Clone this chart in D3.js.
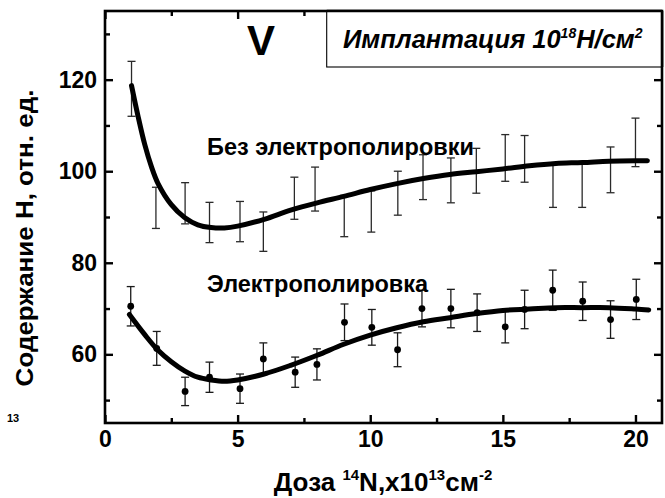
<!DOCTYPE html>
<html>
<head>
<meta charset="utf-8">
<script src="https://cdn.jsdelivr.net/npm/d3@7"></script>
<style>
  html, body { margin: 0; padding: 0; background: #fff; }
  svg { display: block; }
  text { font-family: Arial, "Liberation Sans", sans-serif; }
</style>
</head>
<body>
<svg id="chart" width="665" height="498"></svg>
<script>
// Без электрополировки: доза, среднее, погрешность
const doseRaw = [1.0, 1.92, 3.02, 3.94, 5.09, 5.97, 7.14, 7.92, 9.02, 10.04, 11.04, 11.99, 13.04, 14.0, 15.09, 15.82, 16.89, 17.99, 19.06, 20.0];
const valueRaw = [118.0, 92.0, 93.0, 88.8, 89.0, 86.8, 94.1, 96.1, 90.2, 91.2, 95.2, 98.7, 98.0, 100.1, 102.9, 102.7, 96.9, 96.9, 100.3, 106.3];
const errRaw = [6.0, 4.5, 4.5, 4.4, 4.4, 4.3, 4.6, 4.8, 4.5, 4.5, 4.8, 4.9, 4.9, 4.9, 5.1, 5.1, 4.8, 4.8, 5.0, 5.3];

// Электрополировка: доза, среднее, погрешность
const dosePol = [0.97, 1.95, 3.02, 3.94, 5.09, 5.97, 7.17, 7.99, 9.03, 10.06, 11.03, 11.95, 13.04, 14.03, 15.09, 15.82, 16.88, 18.01, 19.06, 20.03];
const valuePol = [70.5, 61.3, 51.9, 55.0, 52.5, 59.0, 56.1, 57.8, 67.0, 65.9, 61.0, 70.0, 70.0, 69.1, 66.0, 69.8, 74.0, 71.6, 67.6, 72.0];
const errPol = [4.3, 3.7, 3.1, 3.3, 3.2, 3.5, 3.3, 3.4, 4.0, 3.9, 3.7, 4.0, 4.2, 4.1, 3.5, 4.2, 4.4, 4.2, 4.1, 4.4];

// Сглаживающие кривые
const fitDoseRaw = [1.0, 1.25, 1.5, 1.75, 2.0, 2.5, 3.0, 3.5, 4.0, 4.5, 5.0, 6, 7, 8, 9, 10, 11, 12, 13, 14, 15, 16, 17, 18, 19, 20, 20.45];
const fitRaw = [118.7, 111.9, 105.8, 101.0, 97.3, 92.7, 89.9, 88.3, 87.7, 87.6, 88.0, 89.5, 91.5, 93.1, 94.5, 96.0, 97.3, 98.4, 99.3, 99.9, 100.5, 101.2, 101.7, 101.9, 102.2, 102.3, 102.3];
const fitDosePol = [0.92, 1.5, 2, 2.5, 3, 3.5, 4, 4.5, 5, 6, 7, 8, 9, 10, 11, 12, 13, 14, 15, 16, 17, 18, 19, 20, 20.5];
const fitPol = [68.7, 64.3, 60.9, 58.4, 56.4, 55.0, 54.4, 54.1, 54.4, 55.7, 57.6, 59.8, 62.2, 64.2, 65.8, 67.1, 68.0, 68.9, 69.6, 69.9, 70.2, 70.2, 70.2, 69.9, 69.7];

// Оси
const xMajorTicks = [0, 5, 10, 15, 20];
const xMinorTicks = [2.5, 7.5, 12.5, 17.5];
const yMajorTicks = [60, 80, 100, 120];
const yMinorTicks = [50, 70, 90, 110, 130];

const W = 665, H = 498;
const m = { left: 105, top: 11, right: 3, bottom: 75 };
const iw = W - m.left - m.right, ih = H - m.top - m.bottom;

const svg = d3.select("#chart");
const g = svg.append("g").attr("transform", `translate(${m.left},${m.top})`);

const x = d3.scaleLinear().domain([0, 21]).range([0, iw]);
const y = d3.scaleLinear().domain([45, 135]).range([ih, 0]);

const majorLen = 8, minorLen = 5;

function styleAxis(sel, showLabels) {
  sel.select(".domain").remove();
  sel.selectAll(".tick line").attr("stroke", "#000").attr("stroke-width", 2.4);
  if (!showLabels) sel.selectAll(".tick text").remove();
  else sel.selectAll(".tick text")
    .attr("fill", "#000")
    .style("font-size", "23px")
    .style("font-weight", "bold")
    .style("font-family", 'Arial, "Liberation Sans", sans-serif');
}

// нижняя ось
g.append("g").attr("transform", `translate(0,${ih})`)
  .call(d3.axisBottom(x).tickValues(xMajorTicks).tickSize(-majorLen).tickPadding(8).tickFormat(d3.format("d")))
  .call(s => styleAxis(s, true));
g.append("g").attr("transform", `translate(0,${ih})`)
  .call(d3.axisBottom(x).tickValues(xMinorTicks).tickSize(-minorLen))
  .call(s => styleAxis(s, false));
// верхняя ось
g.append("g")
  .call(d3.axisTop(x).tickValues(xMajorTicks).tickSize(-majorLen))
  .call(s => styleAxis(s, false));
g.append("g")
  .call(d3.axisTop(x).tickValues(xMinorTicks).tickSize(-minorLen))
  .call(s => styleAxis(s, false));
// левая ось
g.append("g")
  .call(d3.axisLeft(y).tickValues(yMajorTicks).tickSize(-majorLen).tickPadding(8).tickFormat(d3.format("d")))
  .call(s => styleAxis(s, true));
g.append("g")
  .call(d3.axisLeft(y).tickValues(yMinorTicks).tickSize(-minorLen))
  .call(s => styleAxis(s, false));
// правая ось
g.append("g").attr("transform", `translate(${iw},0)`)
  .call(d3.axisRight(y).tickValues(yMajorTicks).tickSize(-majorLen))
  .call(s => styleAxis(s, false));
g.append("g").attr("transform", `translate(${iw},0)`)
  .call(d3.axisRight(y).tickValues(yMinorTicks).tickSize(-minorLen))
  .call(s => styleAxis(s, false));

// погрешности
function errorBars(doses, vals, errs, color) {
  const grp = g.append("g").attr("stroke", color).attr("stroke-width", 1.3).attr("fill", "none");
  const cap = 4;
  doses.forEach((d, i) => {
    const cx = x(d), y1 = y(vals[i] + errs[i]), y2 = y(vals[i] - errs[i]);
    grp.append("line").attr("x1", cx).attr("x2", cx).attr("y1", y1).attr("y2", y2);
    grp.append("line").attr("x1", cx - cap).attr("x2", cx + cap).attr("y1", y1).attr("y2", y1);
    grp.append("line").attr("x1", cx - cap).attr("x2", cx + cap).attr("y1", y2).attr("y2", y2);
  });
}
errorBars(doseRaw, valueRaw, errRaw, "#2a2a2a");
errorBars(dosePol, valuePol, errPol, "#1a1a1a");

// точки
g.append("g").selectAll("circle").data(dosePol).join("circle")
  .attr("cx", d => x(d)).attr("cy", (d, i) => y(valuePol[i])).attr("r", 3.4).attr("fill", "#000");

// кривые
const line = d3.line().x(d => x(d[0])).y(d => y(d[1])).curve(d3.curveCatmullRom.alpha(0.5));
g.append("path").datum(fitDoseRaw.map((d, i) => [d, fitRaw[i]]))
  .attr("d", line).attr("fill", "none").attr("stroke", "#000").attr("stroke-width", 5).attr("stroke-linecap", "round");
g.append("path").datum(fitDosePol.map((d, i) => [d, fitPol[i]]))
  .attr("d", line).attr("fill", "none").attr("stroke", "#000").attr("stroke-width", 5).attr("stroke-linecap", "round");

// рамка
g.append("rect").attr("x", 0).attr("y", 0).attr("width", iw).attr("height", ih)
  .attr("fill", "none").attr("stroke", "#000").attr("stroke-width", 2.6);

// подпись режима имплантации
const boxX = 326.7 - m.left;
g.append("rect").attr("x", boxX).attr("y", 0).attr("width", iw - boxX).attr("height", 56)
  .attr("fill", "#fff").attr("stroke", "#000").attr("stroke-width", 1.1);
g.append("line").attr("x1", boxX).attr("x2", iw).attr("y1", 0).attr("y2", 0).attr("stroke", "#000").attr("stroke-width", 2.6);
g.append("line").attr("x1", iw).attr("x2", iw).attr("y1", 0).attr("y2", 56).attr("stroke", "#000").attr("stroke-width", 2.6);

const leg = svg.append("text").attr("x", 343).attr("y", 48)
  .style("font-size", "25.5px").style("font-weight", "bold").style("font-style", "italic");
leg.append("tspan").text("Имплантация 10");
leg.append("tspan").attr("dy", -10).style("font-size", "14px").text("18");
leg.append("tspan").attr("dy", 10).text("Н/см");
leg.append("tspan").attr("dy", -10).style("font-size", "14px").text("2");

// буква панели
svg.append("text").attr("x", 261).attr("y", 55).attr("text-anchor", "middle")
  .style("font-size", "42px").style("font-weight", "bold").text("V");

// подписи кривых
svg.append("text").attr("x", 207).attr("y", 155)
  .style("font-size", "23.5px").style("font-weight", "bold").text("Без электрополировки");
svg.append("text").attr("x", 207).attr("y", 292)
  .style("font-size", "23.5px").style("font-weight", "bold").text("Электрополировка");

// подпись оси X
const xt = svg.append("text").attr("x", 383).attr("y", 491).attr("text-anchor", "middle")
  .style("font-size", "26px").style("font-weight", "bold");
xt.append("tspan").text("Доза ");
xt.append("tspan").attr("dy", -11).style("font-size", "15px").text("14");
xt.append("tspan").attr("dy", 11).text("N,x10");
xt.append("tspan").attr("dy", -11).style("font-size", "15px").text("13");
xt.append("tspan").attr("dy", 11).text("см");
xt.append("tspan").attr("dy", -11).style("font-size", "15px").text("-2");

// подпись оси Y
svg.append("text").attr("transform", "translate(33,238) rotate(-90) scale(1,0.9)").attr("text-anchor", "middle")
  .style("font-size", "26px").style("font-weight", "bold").text("Содержание Н, отн. ед.");

// фрагмент соседней подписи
svg.append("text").attr("x", 7).attr("y", 422)
  .style("font-size", "11px").style("font-weight", "bold").text("13");
</script>
</body>
</html>
